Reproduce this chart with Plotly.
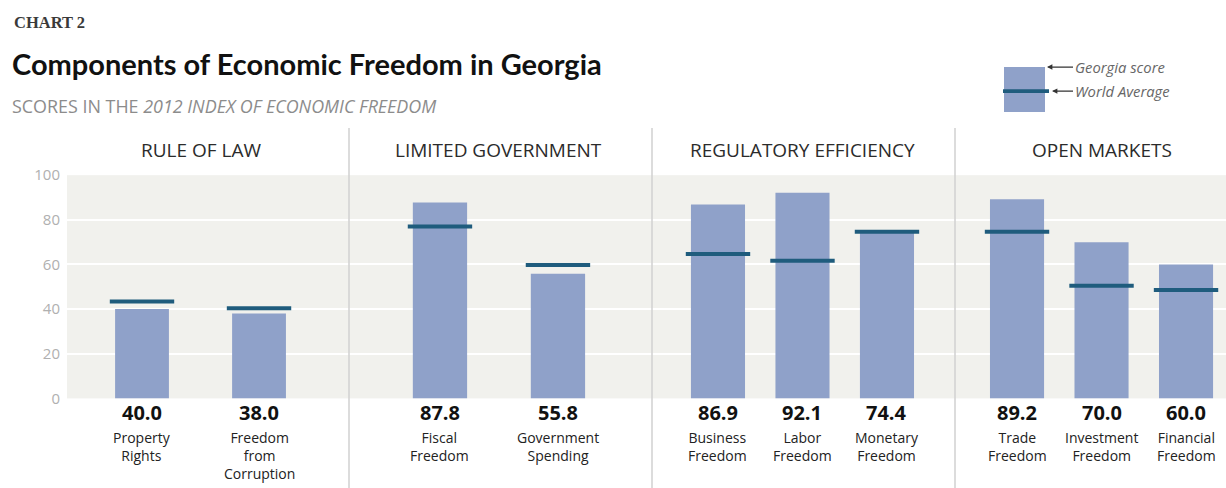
import plotly.graph_objects as go

# ---------------- data ----------------
groups = ["RULE OF LAW", "LIMITED GOVERNMENT", "REGULATORY EFFICIENCY", "OPEN MARKETS"]
components = [
    ["Property Rights", "Freedom from Corruption"],
    ["Fiscal Freedom", "Government Spending"],
    ["Business Freedom", "Labor Freedom", "Monetary Freedom"],
    ["Trade Freedom", "Investment Freedom", "Financial Freedom"],
]
georgia_scores = [
    [40.0, 38.0],
    [87.8, 55.8],
    [86.9, 92.1, 74.4],
    [89.2, 70.0, 60.0],
]
world_average = [
    [43.4, 40.4],
    [77.0, 59.8],
    [64.7, 61.7, 74.6],
    [74.7, 50.5, 48.6],
]
y_ticks = [0, 20, 40, 60, 80, 100]

# ---------------- style / layout ----------------
W, H = 1226, 488
BAR = "#8fa1c9"
AVG = "#1f5c7d"
BG = "#f1f1ed"
FONT = "Open Sans"

x_domains_px = [(67, 349), (349, 652), (652, 955), (955, 1226)]
x_ranges = [(-0.641, 1.769), (-0.771, 1.797), (-0.781, 2.805), (-0.734, 2.473)]
bar_widths = [0.46, 0.46, 0.64, 0.64]
y_top_px, y_bot_px = 175, 398

# vertical calibration of the photographed page (measured from earlier renders)
OBS_OFFSET, OBS_SCALE = 11.0, 0.958


def px_x(x):
    return x / W


def px_y(y):
    return 1 - ((y - OBS_OFFSET) / OBS_SCALE) / H


def raw_y(y):
    return 1 - y / H


fig = go.Figure()
annotations = []
shapes = []

for i, (grp, comps, vals, avgs) in enumerate(zip(groups, components, georgia_scores, world_average)):
    xa = "x" if i == 0 else f"x{i+1}"
    fig.add_trace(go.Bar(
        x=comps, y=vals, xaxis=xa, yaxis="y",
        marker=dict(color=BAR, line=dict(width=0)),
        width=bar_widths[i], showlegend=False, hoverinfo="x+y",
    ))
    fig.add_trace(go.Scatter(
        x=comps, y=avgs, xaxis=xa, yaxis="y", mode="markers",
        marker=dict(symbol="line-ew", size=46, line=dict(width=4, color=AVG)),
        showlegend=False, hoverinfo="x+y",
    ))
    key = "xaxis" if i == 0 else f"xaxis{i+1}"
    d0, d1 = x_domains_px[i]
    fig.layout[key] = dict(
        domain=[px_x(d0), px_x(d1)], range=list(x_ranges[i]), type="category",
        anchor="y", showticklabels=False, showgrid=False, zeroline=False,
        showline=False, ticks="", fixedrange=True,
    )
    annotations.append(dict(
        text=grp, xref=xa, yref="paper", x=(len(comps) - 1) / 2, y=px_y(150),
        xanchor="center", yanchor="middle", showarrow=False,
        font=dict(family=FONT, size=19, color="#2b2b2b"),
    ))
    for c, v in zip(comps, vals):
        annotations.append(dict(
            text=f"<b>{v:.1f}</b>", xref=xa, yref="paper", x=c, y=raw_y(418.5),
            xanchor="center", yanchor="middle", showarrow=False,
            font=dict(family=FONT, size=20, color="#111111"),
        ))
        annotations.append(dict(
            text=c.replace(" ", "<br>"), xref=xa, yref="paper", x=c, y=raw_y(433),
            xanchor="center", yanchor="top", showarrow=False,
            font=dict(family=FONT, size=14, color="#222222"),
        ))
    if i > 0:
        shapes.append(dict(
            type="line", xref="paper", yref="paper",
            x0=px_x(d0), x1=px_x(d0), y0=-0.05, y1=px_y(128),
            line=dict(color="#d0d0d0", width=1.5), layer="above",
        ))

fig.update_layout(
    width=W, height=H,
    margin=dict(l=0, r=0, t=0, b=0),
    paper_bgcolor="white", plot_bgcolor=BG,
    barmode="overlay",
    yaxis=dict(
        domain=[px_y(y_bot_px), px_y(y_top_px)], range=[0, 100],
        tickvals=y_ticks, ticktext=[str(t) for t in y_ticks],
        showgrid=True, gridcolor="white", gridwidth=2,
        zeroline=False, showline=False, ticks="", ticklabelstandoff=6,
        tickfont=dict(family=FONT, size=15, color="#b0b0b0"),
        anchor="x", fixedrange=True,
    ),
    font=dict(family=FONT),
)

annotations += [
    dict(text="<b>CHART 2</b>", xref="paper", yref="paper", x=px_x(12), y=px_y(22),
         xanchor="left", yanchor="middle", showarrow=False,
         font=dict(family="Liberation Serif", size=16.5, color="#3a3a3a")),
    dict(text="<b>Components of Economic Freedom in Georgia</b>", xref="paper", yref="paper",
         x=px_x(10), y=px_y(63), xanchor="left", yanchor="middle", showarrow=False,
         font=dict(family="Lato", size=29, color="#111111")),
    dict(text="SCORES IN THE <i>2012 INDEX OF ECONOMIC FREEDOM</i>", xref="paper", yref="paper",
         x=px_x(10), y=px_y(106), xanchor="left", yanchor="middle", showarrow=False,
         font=dict(family=FONT, size=17.9, color="#8c8c8c")),
]

shapes += [
    dict(type="rect", xref="paper", yref="paper", x0=px_x(1004), x1=px_x(1045),
         y0=px_y(112), y1=px_y(67), fillcolor=BAR, line=dict(width=0)),
    dict(type="line", xref="paper", yref="paper", x0=px_x(1003), x1=px_x(1049),
         y0=px_y(91), y1=px_y(91), line=dict(color=AVG, width=3.6)),
]
for label, tip_x, ty in [("Georgia score", 1047, 67), ("World Average", 1052, 91)]:
    annotations.append(dict(
        text=f"<i>{label}</i>", xref="paper", yref="paper", x=px_x(tip_x), y=px_y(ty),
        ax=1073 - tip_x, ay=0, xanchor="left", yanchor="middle", showarrow=True,
        arrowhead=2, arrowsize=0.9, arrowwidth=1.2, arrowcolor="#333333",
        font=dict(family=FONT, size=14.8, color="#666666"),
    ))

fig.update_layout(annotations=annotations, shapes=shapes)
fig.write_html("out.html")
